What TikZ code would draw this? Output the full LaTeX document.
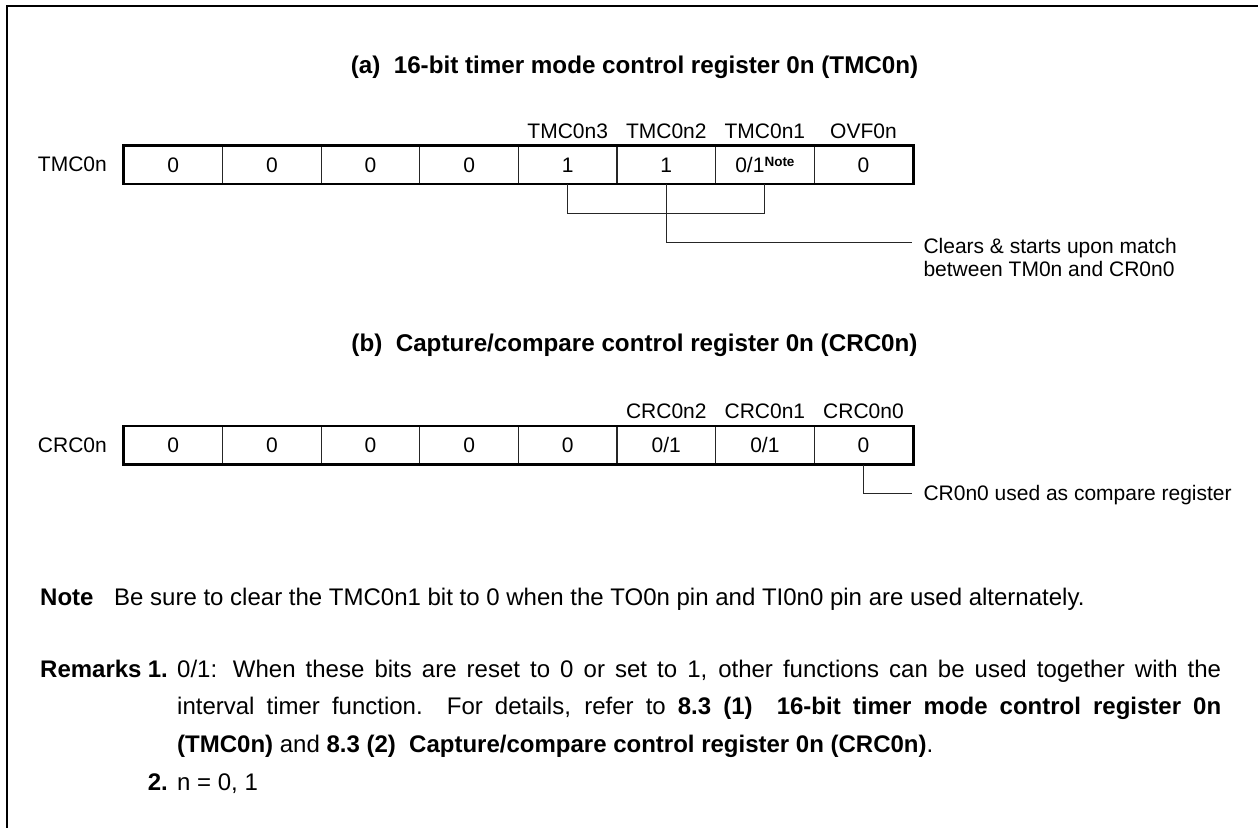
\documentclass[tikz,border=0pt]{standalone}
\usepackage{fontspec}
\setmainfont{Liberation Sans}
\usetikzlibrary{positioning}

\begin{document}
\begin{tikzpicture}[
    x=1pt, y=-1pt,
    regtitle/.style={font=\fontsize{24.2}{28}\selectfont\bfseries, inner sep=0pt, anchor=base},
    bitcell/.style={rectangle, draw=black!85, line width=1.1pt, minimum width=98.6pt, minimum height=37.3pt, inner sep=0pt, text height=15pt, text depth=0pt, font=\fontsize{21}{24}\selectfont},
    bitname/.style={inner sep=0pt, anchor=base, font=\fontsize{21}{24}\selectfont},
    regframe/.style={line width=2.6pt},
    leader/.style={line width=1.1pt, black!85},
    remtext/.style={inner sep=0pt, anchor=base west, font=\fontsize{24}{28}\selectfont},
]
\useasboundingbox (0,0) rectangle (1258,828);

% 外框（上、左）
\draw[line width=2.6pt] (1258,6) -- (7,6) -- (7,828);

% (a) TMC0n
\node[regtitle] (ta) at (634.5,73.5) {(a)\ \ 16-bit timer mode control register 0n (TMC0n)};

\node[bitname, anchor=east] (tname) at (107,164.7) {TMC0n};
\node[bitcell] (t1) at (173.3,164.7) {0};
\node[bitcell] (t2) at (271.9,164.7) {0};
\node[bitcell] (t3) at (370.5,164.7) {0};
\node[bitcell] (t4) at (469.1,164.7) {0};
\node[bitcell] (t5) at (567.7,164.7) {1};
\node[bitcell] (t6) at (666.3,164.7) {1};
\node[bitcell] (t7) at (764.9,164.7) {0/1\raisebox{5.5pt}{\fontsize{13.5}{14}\selectfont\bfseries Note}};
\node[bitcell] (t8) at (863.5,164.7) {0};
\draw[regframe] (t1.north west) rectangle (t8.south east);

\node[bitname] (tb3) at (567.7,138.3) {TMC0n3};
\node[bitname] (tb2) at (666.3,138.3) {TMC0n2};
\node[bitname] (tb1) at (764.9,138.3) {TMC0n1};
\node[bitname] (tov) at (863.5,138.3) {OVF0n};

% 清零并启动
\coordinate (brk) at (0,213.3);
\coordinate (clrend) at (911.7,242.7);
\node[bitname, anchor=base west, align=left, font=\fontsize{21}{23.4}\selectfont] (clr) at (923.3,276.7) {Clears \& starts upon match\\between TM0n and CR0n0};
\draw[leader] (t5.south) -- (t5.south |- brk) -| (t7.south);
\draw[leader] (t6.south) |- (clrend);

% (b) CRC0n
\node[regtitle] (tb) at (634.5,351.7) {(b)\ \ Capture/compare control register 0n (CRC0n)};

\node[bitname, anchor=east] (cname) at (107,445.3) {CRC0n};
\node[bitcell] (c1) at (173.3,445.3) {0};
\node[bitcell] (c2) at (271.9,445.3) {0};
\node[bitcell] (c3) at (370.5,445.3) {0};
\node[bitcell] (c4) at (469.1,445.3) {0};
\node[bitcell] (c5) at (567.7,445.3) {0};
\node[bitcell] (c6) at (666.3,445.3) {0/1};
\node[bitcell] (c7) at (764.9,445.3) {0/1};
\node[bitcell] (c8) at (863.5,445.3) {0};
\draw[regframe] (c1.north west) rectangle (c8.south east);

\node[bitname] (cb2) at (666.3,418.3) {CRC0n2};
\node[bitname] (cb1) at (764.9,418.3) {CRC0n1};
\node[bitname] (cb0) at (863.5,418.3) {CRC0n0};

% 比较寄存器
\coordinate (cmpend) at (911.7,493.3);
\node[bitname, anchor=base west] (cmp) at (923.3,500.8) {CR0n0 used as compare register};
\draw[leader] (c8.south) |- (cmpend);

% 注释
\node[remtext] (nthd) at (40,605.3) {\textbf{Note}};
\node[remtext] (nttx) at (114,605.3) {Be sure to clear the TMC0n1 bit to 0 when the TO0n pin and TI0n0 pin are used alternately.};

\node[remtext] (rmhd) at (40,677) {\textbf{Remarks}};
\node[remtext, anchor=base east] (rmn1) at (168,677) {\textbf{1.}};
\node[remtext] (rml1) at (177,677) {\makebox[1044pt][s]{0/1: When these bits are reset to 0 or set to 1, other functions can be used together with the}};
\node[remtext] (rml2) at (177,714.8) {\makebox[1044pt][s]{interval timer function.\ \ For details, refer to \textbf{8.3 (1)\ \ 16-bit timer mode control register 0n}}};
\node[remtext] (rml3) at (177,752.6) {\textbf{(TMC0n)} and \textbf{8.3 (2)\ \ Capture/compare control register 0n (CRC0n)}.};
\node[remtext, anchor=base east] (rmn2) at (168,790.4) {\textbf{2.}};
\node[remtext] (rml4) at (177,790.4) {n = 0, 1};

\end{tikzpicture}
\end{document}
